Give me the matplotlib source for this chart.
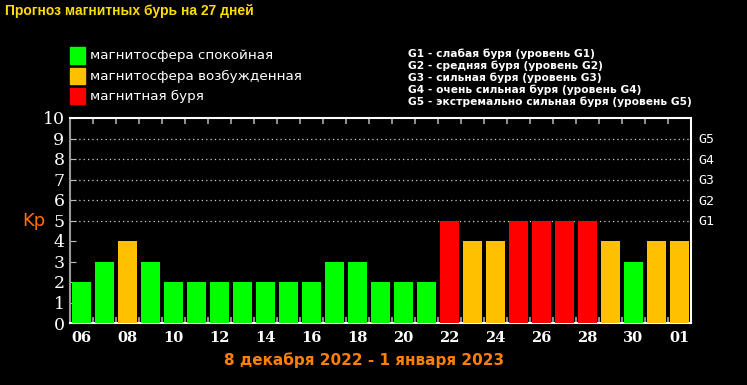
import matplotlib
matplotlib.use("Agg")
import matplotlib.pyplot as plt
from matplotlib.patches import Rectangle
import numpy as np

# ---- data ----
days = ["06", "07", "08", "09", "10", "11", "12", "13", "14", "15", "16", "17", "18", "19",
        "20", "21", "22", "23", "24", "25", "26", "27", "28", "29", "30", "31", "01"]
kp = [2, 3, 4, 3, 2, 2, 2, 2, 2, 2, 2, 3, 3, 2, 2, 2, 5, 4, 4, 5, 5, 5, 5, 4, 3, 4, 4]
g_levels = ["G1", "G2", "G3", "G4", "G5"]
g_kp = [5, 6, 7, 8, 9]
legend_labels = ["магнитосфера спокойная", "магнитосфера возбужденная", "магнитная буря"]
g_desc = ["G1 - слабая буря (уровень G1)",
          "G2 - средняя буря (уровень G2)",
          "G3 - сильная буря (уровень G3)",
          "G4 - очень сильная буря (уровень G4)",
          "G5 - экстремально сильная буря (уровень G5)"]
title = "Прогноз магнитных бурь на 27 дней"
period = "8 декабря 2022 - 1 января 2023"

GREEN, ORANGE, RED = "#00ff00", "#ffc000", "#ff0000"
def colour(v):
    if v >= 5:
        return RED
    if v == 4:
        return ORANGE
    return GREEN

fig = plt.figure(figsize=(7.47, 3.85), dpi=100, facecolor="black")
ax = fig.add_axes([70/747, 1 - 323/385, 621/747, 205/385])
ax.set_facecolor("black")

x = np.arange(len(days))
ax.bar(x, kp, width=0.82, color=[colour(v) for v in kp], zorder=3)
ax.set_xlim(-0.5, len(days) - 0.5)
ax.set_ylim(0, 10)

# dotted grid lines at G levels
for g in g_kp:
    ax.axhline(g, color="#d0d0d0", lw=0.9, ls=(0, (1, 2.5)), zorder=1)

# y ticks on left
ax.set_yticks(range(11))
ax.set_yticklabels([str(i) for i in range(11)], fontsize=12.5, color="white",
                   family="DejaVu Serif")
ax.tick_params(axis="y", which="major", left=False, right=True, length=4,
               direction="in", color="#bbbbbb", pad=4)

# x ticks
ax.set_xticks(x[::2])
ax.set_xticklabels(days[::2], fontsize=10.5, fontweight="bold", color="white",
                   family="DejaVu Serif")
ax.tick_params(axis="x", which="major", length=0, pad=6)
ax.set_xticks(x[:-1] + 0.5, minor=True)
ax.tick_params(axis="x", which="minor", top=True, bottom=True, direction="in",
               length=4, color="#aaaaaa", width=1.2)

for s in ["top", "bottom", "right"]:
    ax.spines[s].set_color("white")
    ax.spines[s].set_linewidth(1.5)
ax.spines["left"].set_color("#999999")
ax.spines["left"].set_linewidth(1.5)

# right G labels
ax2 = ax.twinx()
ax2.set_ylim(0, 10)
ax2.set_yticks(g_kp)
ax2.set_yticklabels(g_levels, fontsize=9.5, color="white", family="DejaVu Sans Mono")
ax2.tick_params(axis="y", length=0, pad=5)
for s in ax2.spines.values():
    s.set_visible(False)

# Kp label
fig.text(22/747, 1 - 221/385, "Kp", color="#ff7000", fontsize=13, va="center", ha="left")

# title
fig.text(5/747, 1 - 11/385, title, color="#ffdd00", fontsize=10, fontweight="bold",
         family="Liberation Sans", va="center", ha="left")

# legend
for i, (lab, c) in enumerate(zip(legend_labels, [GREEN, ORANGE, RED])):
    yc = 55.5 + i * 20.5
    fig.patches.append(Rectangle((70/747, 1 - (yc + 8)/385), 15/747, 16/385,
                                 transform=fig.transFigure, color=c))
    fig.text(90/747, 1 - yc/385, lab, color="white", fontsize=9.7, va="center", ha="left")

# G descriptions
for i, t in enumerate(g_desc):
    fig.text(408/747, 1 - (54 + i * 12)/385, t, color="white", fontsize=7.7,
             fontweight="bold", va="center", ha="left")

# period text
fig.text(364/747, 1 - 360/385, period, color="#ff8000", fontsize=11, fontweight="bold",
         va="center", ha="center")

fig.savefig("out.png", dpi=100, facecolor="black")
